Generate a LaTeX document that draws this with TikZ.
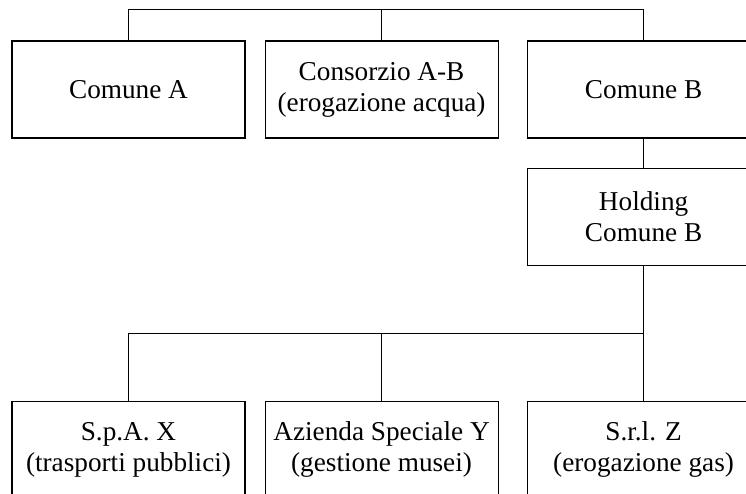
\documentclass[tikz,border=0pt]{standalone}
\usepackage{fontspec}
\setmainfont{Liberation Serif}
\usetikzlibrary{positioning}

\tikzset{
  ente/.style={draw, line width=0.6pt, minimum width=4.66cm, minimum height=1.94cm,
    inner sep=0pt, align=center, font=\fontsize{15.5}{17.6}\selectfont},
  link/.style={line width=0.6pt},
}

\begin{document}
\begin{tikzpicture}
  \useasboundingbox (0,0) rectangle (14.92,-9.88);

  % top row
  \node [ente] (comA) at (2.57,-1.79) {Comune A};
  \node [ente, right=0.38cm of comA] (cons) {Consorzio A-B\\(erogazione acqua)};
  \node [ente, right=0.56cm of cons] (comB) {Comune B};

  \node [ente, below=0.58cm of comB] (hold) {Holding\\Comune B};

  % bottom row
  \node [ente, below=2.7cm of hold] (srlZ) {S.r.l. Z\\(erogazione gas)};
  \node [ente, left=0.56cm of srlZ] (azY) {Azienda Speciale Y\\(gestione musei)};
  \node [ente, left=0.38cm of azY] (spaX) {S.p.A. X\\(trasporti pubblici)};

  \coordinate [above=0.62cm of comA.north] (barT);   % helper
  \coordinate [below=1.36cm of hold.south] (barM);   % helper

  \draw [link] (comA.north) -- (barT) -| (comB.north);
  \draw [link] (cons.north) |- (barT);
  \draw [link] (comB) -- (hold);

  \draw [link] (hold) -- (srlZ);
  \draw [link] (spaX.north) |- (barM);
  \draw [link] (azY.north) |- (barM);
\end{tikzpicture}
\end{document}
